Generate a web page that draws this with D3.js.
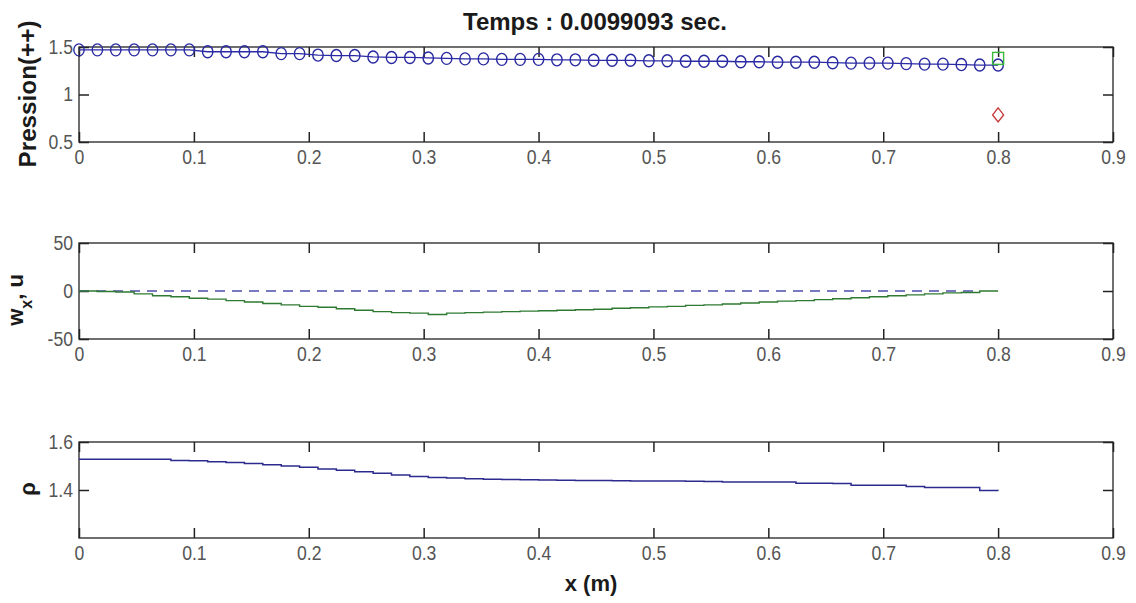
<!DOCTYPE html>
<html><head><meta charset="utf-8">
<script src="https://cdn.jsdelivr.net/npm/d3@7"></script>
<style>
body{margin:0;background:#fff;}
svg{display:block;}
</style></head>
<body>
<svg id="c" width="1136" height="603"></svg>
<script>
// ---- data ----
const xGrid = [0,0.016,0.032,0.048,0.064,0.08,0.096,0.112,0.128,0.144,0.16,0.176,0.192,0.208,0.224,0.24,0.256,0.272,0.288,0.304,0.32,0.336,0.352,0.368,0.384,0.4,0.416,0.432,0.448,0.464,0.48,0.496,0.512,0.528,0.544,0.56,0.576,0.592,0.608,0.624,0.64,0.656,0.672,0.688,0.704,0.72,0.736,0.752,0.768,0.784,0.8];
const pression = [1.47,1.47,1.47,1.47,1.47,1.47,1.47,1.45,1.45,1.45,1.45,1.43,1.43,1.415,1.41,1.41,1.395,1.39,1.39,1.385,1.38,1.375,1.375,1.37,1.37,1.37,1.365,1.365,1.36,1.36,1.36,1.355,1.355,1.35,1.35,1.35,1.345,1.345,1.34,1.34,1.34,1.335,1.33,1.33,1.33,1.325,1.32,1.32,1.315,1.31,1.31];
const wx = [0,-0.5,-1,-3,-5,-6,-7.5,-8.5,-10,-11.5,-13,-14.5,-16,-17,-18.5,-20,-21.5,-22.5,-23,-24.5,-23,-22.5,-22,-21.5,-21,-20.5,-20,-19.5,-19,-18,-17.5,-16.5,-16,-15,-14.5,-13.5,-12.5,-11.5,-10.5,-10,-9,-8,-7,-6,-5,-4,-3,-2,-1.5,0,0];
const u = [0,0,0,0,0,0,0,0,0,0,0,0,0,0,0,0,0,0,0,0,0,0,0,0,0,0,0,0,0,0,0,0,0,0,0,0,0,0,0,0,0,0,0,0,0,0,0,0,0,0];
const rho = [1.528,1.528,1.528,1.528,1.528,1.523,1.522,1.518,1.515,1.51,1.505,1.5,1.495,1.488,1.482,1.476,1.47,1.462,1.456,1.452,1.45,1.447,1.445,1.444,1.443,1.442,1.441,1.44,1.44,1.439,1.438,1.437,1.437,1.436,1.435,1.433,1.433,1.433,1.433,1.428,1.428,1.427,1.42,1.42,1.42,1.415,1.41,1.41,1.41,1.398,1.397];
const squarePt = [0.8, 1.38];
const diamondPt = [0.8, 0.785];
const xTicks = [0,0.1,0.2,0.3,0.4,0.5,0.6,0.7,0.8,0.9];
const xTickLabels = ["0","0.1","0.2","0.3","0.4","0.5","0.6","0.7","0.8","0.9"];
const yTicks1 = [0.5,1,1.5], yTickLabels1 = ["0.5","1","1.5"];
const yTicks2 = [-50,0,50], yTickLabels2 = ["-50","0","50"];
const yTicks3 = [1.4,1.6], yTickLabels3 = ["1.4","1.6"];
const titleText = "Temps : 0.0099093 sec.";
const xLabel = "x (m)";

// ---- layout ----
const svg = d3.select("#c");
const L = 79, R = 1113;
const x = d3.scaleLinear().domain([0,0.9]).range([L,R]);
const panels = [
  {top:47, bot:142, dom:[0.5,1.5], ticks:yTicks1, labels:yTickLabels1},
  {top:243, bot:339, dom:[-50,50], ticks:yTicks2, labels:yTickLabels2},
  {top:442, bot:538, dom:[1.2,1.6], ticks:yTicks3, labels:yTickLabels3}
];
const tickFont = "'Liberation Sans',Arial,sans-serif";
const TL = 10;
panels.forEach(p=>{
  p.y = d3.scaleLinear().domain(p.dom).range([p.bot,p.top]);
  const g = svg.append("g");
  g.append("rect").attr("x",L).attr("y",p.top).attr("width",R-L).attr("height",p.bot-p.top)
    .attr("fill","#fff").attr("stroke","#222").attr("stroke-width",1.3);
  const ax = d3.axisBottom(x).tickValues(xTicks).tickSize(-TL).tickPadding(8)
    .tickFormat((d,i)=>xTickLabels[i]);
  const gx = g.append("g").attr("transform",`translate(0,${p.bot})`).call(ax);
  const axT = d3.axisTop(x).tickValues(xTicks).tickSize(-TL).tickFormat("");
  const gxt = g.append("g").attr("transform",`translate(0,${p.top})`).call(axT);
  const ay = d3.axisLeft(p.y).tickValues(p.ticks).tickSize(-TL).tickPadding(6)
    .tickFormat((d,i)=>p.labels[i]);
  const gy = g.append("g").attr("transform",`translate(${L},0)`).call(ay);
  const ayR = d3.axisRight(p.y).tickValues(p.ticks).tickSize(-TL).tickFormat("");
  const gyr = g.append("g").attr("transform",`translate(${R},0)`).call(ayR);
  [gx,gxt,gy,gyr].forEach(a=>{
    a.select(".domain").remove();
    a.selectAll(".tick line").attr("stroke","#222").attr("stroke-width",1.5);
    a.selectAll(".tick text").attr("font-family",tickFont).attr("font-size",20).attr("fill","#555")
      .attr("transform","scale(0.88,1)");
  });
  gx.selectAll(".tick text").attr("transform",null).attr("textLength",function(){return this.getComputedTextLength()*0.88;})
    .attr("lengthAdjust","spacingAndGlyphs");
  gy.selectAll(".tick text").attr("transform",null).attr("x",-6).attr("textLength",function(){return this.getComputedTextLength()*0.88;})
    .attr("lengthAdjust","spacingAndGlyphs");
});

// ---- panel 1 ----
const p1 = panels[0];
const pts1 = xGrid.map((d,i)=>[d,pression[i]]);
svg.append("path").datum(pts1).attr("fill","none").attr("stroke","#2b2ba8").attr("stroke-width",1.3)
  .attr("d",d3.line().x(d=>x(d[0])).y(d=>p1.y(d[1])));
svg.append("g").selectAll("ellipse").data(pts1).join("ellipse")
  .attr("cx",d=>x(d[0])).attr("cy",d=>p1.y(d[1])).attr("rx",5.2).attr("ry",6)
  .attr("fill","none").attr("stroke","#2a2aa0").attr("stroke-width",1.4);
svg.append("rect").attr("x",x(squarePt[0])-5.5).attr("y",p1.y(squarePt[1])-6).attr("width",11).attr("height",12)
  .attr("fill","none").attr("stroke","#3ab83a").attr("stroke-width",1.4);
{
  const cx=x(diamondPt[0]), cy=p1.y(diamondPt[1]);
  svg.append("path").attr("d",`M${cx},${cy-7}L${cx+5.5},${cy}L${cx},${cy+7}L${cx-5.5},${cy}Z`)
    .attr("fill","none").attr("stroke","#c83a3a").attr("stroke-width",1.4);
}

// ---- panel 2 ----
const p2 = panels[1];
svg.append("path").datum(u.map((d,i)=>[xGrid[i],d])).attr("fill","none").attr("stroke","#4d4dae")
  .attr("stroke-width",1.3).attr("stroke-dasharray","10,7")
  .attr("d",d3.line().x(d=>x(d[0])).y(d=>p2.y(d[1])));
svg.append("path").datum(wx.map((d,i)=>[xGrid[i],d])).attr("fill","none").attr("stroke","#2f7a32")
  .attr("stroke-width",1.4)
  .attr("d",d3.line().curve(d3.curveStepAfter).x(d=>x(d[0])).y(d=>p2.y(d[1])));

// ---- panel 3 ----
const p3 = panels[2];
svg.append("path").datum(rho.map((d,i)=>[xGrid[i],d])).attr("fill","none").attr("stroke","#2b2b8e")
  .attr("stroke-width",1.5)
  .attr("d",d3.line().curve(d3.curveStepAfter).x(d=>x(d[0])).y(d=>p3.y(d[1])));

// ---- text ----
const labFont = "'Liberation Sans',Arial,sans-serif";
svg.append("text").attr("x",595).attr("y",30).attr("text-anchor","middle")
  .attr("font-family",labFont).attr("font-size",24).attr("font-weight","bold").attr("fill","#1a1a1a")
  .attr("textLength",264).attr("lengthAdjust","spacingAndGlyphs").text(titleText);
svg.append("text").attr("x",591).attr("y",591).attr("text-anchor","middle")
  .attr("font-family",labFont).attr("font-size",22).attr("font-weight","bold").attr("fill","#1a1a1a").text(xLabel);
svg.append("text").attr("transform","translate(36,94) rotate(-90)").attr("text-anchor","middle")
  .attr("font-family",labFont).attr("font-size",24).attr("font-weight","bold").attr("fill","#1a1a1a")
  .attr("textLength",147).attr("lengthAdjust","spacingAndGlyphs").text("Pression(++)");
{
  const t = svg.append("text").attr("transform","translate(23,300) rotate(-90)").attr("text-anchor","middle")
    .attr("font-family",labFont).attr("font-size",22).attr("font-weight","bold").attr("fill","#1a1a1a");
  t.append("tspan").text("w");
  t.append("tspan").attr("font-size",16).attr("dy",9).text("x");
  t.append("tspan").attr("dy",-9).text(", u");
}
svg.append("text").attr("transform","translate(35,489) rotate(-90)").attr("text-anchor","middle")
  .attr("font-family",labFont).attr("font-size",22).attr("font-weight","bold").attr("fill","#1a1a1a").text("ρ");
</script>
</body></html>
